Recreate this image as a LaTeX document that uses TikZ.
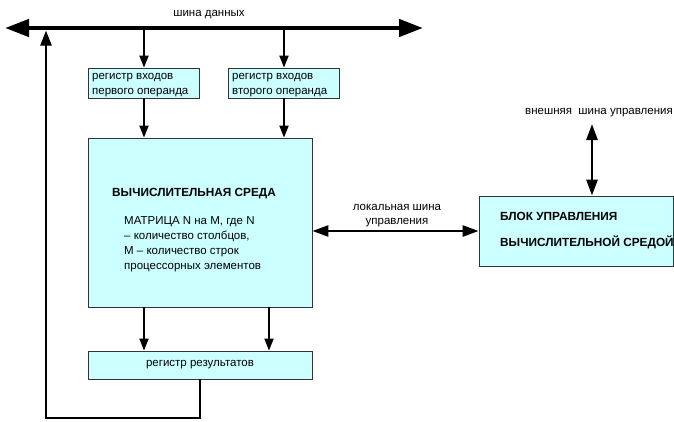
\documentclass[tikz,border=0pt]{standalone}
\usepackage{fontspec}
\setmainfont{Liberation Sans}
\usetikzlibrary{arrows.meta}
\definecolor{boxfill}{HTML}{CCFFFF}
\definecolor{boxline}{HTML}{333333}
\begin{document}
\begin{tikzpicture}[x=1pt,y=-1pt,
  blk/.style={draw=boxline,line width=0.8pt,fill=boxfill,inner sep=0pt},
  txt/.style={font=\fontsize{11.5}{14.8}\selectfont,inner sep=0pt},
  btxt/.style={font=\fontsize{11.8}{26}\selectfont\bfseries,inner sep=0pt},
  thin/.style={line width=1.8pt,-{Triangle[length=12pt,width=9pt]}},
  bus/.style={line width=4.5pt,{Triangle[length=24pt,width=17pt]}-{Triangle[length=24pt,width=17pt]}},
  dbl/.style={line width=2.6pt,{Triangle[length=16pt,width=11pt]}-{Triangle[length=16pt,width=11pt]}},
  fb/.style={line width=2.6pt,-{Triangle[length=15pt,width=11pt]}}]
\useasboundingbox (0,0) rectangle (674,421);
% boxes
\node[blk,minimum width=111pt,minimum height=30pt] (reg1) at (143.5,83) {};
\node[blk,minimum width=111pt,minimum height=30pt] (reg2) at (283.5,83) {};
\node[blk,minimum width=224pt,minimum height=169pt] (main) at (200,222.5) {};
\node[blk,minimum width=224pt,minimum height=28pt] (res) at (200,365) {};
\node[blk,minimum width=194pt,minimum height=70pt] (ctl) at (576,231) {};
% texts
\node[txt,anchor=north west,align=left] (t1) at (92,73) {регистр входов\\первого операнда};
\node[txt,anchor=north west,align=left] (t2) at (232,73) {регистр входов\\второго операнда};
\node[btxt,anchor=base west] (t3) at (112,196.2) {ВЫЧИСЛИТЕЛЬНАЯ СРЕДА};
\node[txt,anchor=north west,align=left] (t4) at (124,216.6) {МАТРИЦА N на М, где N\\– количество столбцов,\\М – количество строк\\процессорных элементов};
\node[txt] (t5) at (res.center) {регистр результатов};
\node[btxt,anchor=north west,align=left] (t6) at (500,211.8) {БЛОК УПРАВЛЕНИЯ\\ВЫЧИСЛИТЕЛЬНОЙ СРЕДОЙ};
\node[txt,anchor=base] (t7) at (209,16) {шина данных};
\node[txt,align=center,anchor=north] (t8) at (397,203.7) {локальная шина\\управления};
\node[txt,anchor=base east] (t9) at (673,114.8) {внешняя\ \ шина управления};
% bus
\coordinate (busL) at (5,28);
\coordinate (busR) at (423,28);
\draw[bus] (busL) -- (busR);
% arrows
\coordinate (b1) at (144,30);
\coordinate (b2) at (284,30);
\draw[thin] (b1) -- (b1 |- reg1.north);
\draw[thin] (b2) -- (b2 |- reg2.north);
\draw[thin] (b1 |- reg1.south) -- (b1 |- main.north);
\draw[thin] (b2 |- reg2.south) -- (b2 |- main.north);
\coordinate (m1) at (144,307);
\coordinate (m2) at (269,307);
\draw[thin] (m1) -- (m1 |- res.north);
\draw[thin] (m2) -- (m2 |- res.north);
% feedback
\coordinate (fbA) at (200,418);
\coordinate (fbB) at (46,418);
\coordinate (fbT) at (46,30.5);
\draw[fb] (res.south) -- (fbA) -- (fbB) -- (fbT);
% local bus
\draw[dbl] (main.east |- ctl.west) -- (ctl.west);
% external bus
\coordinate (ext) at (592,124);
\draw[dbl] (ext) -- (ext |- ctl.north);
\end{tikzpicture}
\end{document}
